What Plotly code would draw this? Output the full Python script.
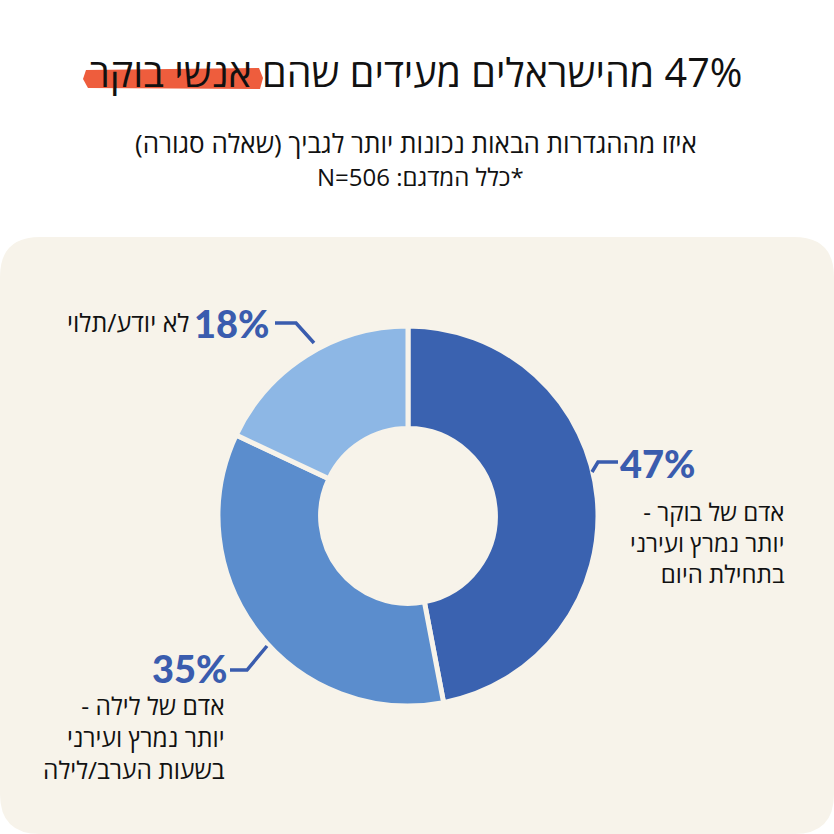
import plotly.graph_objects as go

# datos del grafico
etiquetas = ['אדם של בוקר', 'אדם של לילה', 'לא יודע/תלוי']
valores = [47, 35, 18]
colores = ['#3A62B0', '#5B8DCD', '#8DB7E5']

titulo = '47% מהישראלים מעידים שהם אנשי בוקר'
subtitulo = ['איזו מההגדרות הבאות נכונות יותר לגביך (שאלה סגורה)', '*כלל המדגם: N=506']
textos_47 = ['אדם של בוקר -', 'יותר נמרץ ועירני', 'בתחילת היום']
textos_35 = ['אדם של לילה -', 'יותר נמרץ ועירני', 'בשעות הערב/לילה']
textos_18 = ['לא יודע/תלוי']

W = H = 834
FONDO = '#F7F3EA'
AZUL = '#3A5CAE'
HEB = 'Open Sans, Noto Sans, Liberation Sans, DejaVu Sans, sans-serif'
NUM = 'Lato, Inter, Roboto, sans-serif'


def px(x):  # pixel -> paper
    return x / W


def py(y):
    return 1 - y / H


def rtl(t):
    return '\u202b' + t + '\u202c'


def bloque(lineas):
    return '<br>'.join(rtl(t) for t in lineas)


fig = go.Figure()
fig.add_trace(go.Pie(
    labels=etiquetas,
    values=valores,
    sort=False,
    direction='clockwise',
    rotation=0,
    hole=0.46,
    marker=dict(colors=colores, line=dict(color=FONDO, width=5)),
    textinfo='none',
    hoverinfo='label+percent',
    showlegend=False,
    domain=dict(x=[px(218), px(598)], y=[py(708), py(324)])
))

formas = []
# panel beige con esquinas redondeadas
x0, x1, y0, y1, r = 0, 834, 237, 834, 40
camino = (f'M {px(x0)},{py(y0 + r)} Q {px(x0)},{py(y0)} {px(x0 + r)},{py(y0)} '
          f'L {px(x1 - r)},{py(y0)} Q {px(x1)},{py(y0)} {px(x1)},{py(y0 + r)} '
          f'L {px(x1)},{py(y1 - r)} Q {px(x1)},{py(y1)} {px(x1 - r)},{py(y1)} '
          f'L {px(x0 + r)},{py(y1)} Q {px(x0)},{py(y1)} {px(x0)},{py(y1 - r)} Z')
formas.append(dict(type='path', xref='paper', yref='paper', path=camino,
                   fillcolor=FONDO, line=dict(width=0), layer='below'))
# subrayado naranjo del titulo
subr = (f'M {px(86)},{py(70)} L {px(259)},{py(68)} L {px(263)},{py(78)} '
        f'L {px(260)},{py(89)} L {px(88)},{py(88)} L {px(83)},{py(79)} Z')
formas.append(dict(type='path', xref='paper', yref='paper', path=subr,
                   fillcolor='#EE5D3D', line=dict(width=0), layer='below'))


def guia(puntos):
    p = 'M ' + ' L '.join(f'{px(a)},{py(b)}' for a, b in puntos)
    return dict(type='path', xref='paper', yref='paper', path=p,
                line=dict(color=AZUL, width=3.5))


formas.append(guia([(275, 323), (296, 323), (314, 343)]))
formas.append(guia([(592, 472), (598, 462), (618, 462)]))
formas.append(guia([(230, 670), (247, 670), (267, 646)]))

anot = []
anot.append(dict(x=px(416), y=py(72), text=rtl(titulo), xanchor='center', yanchor='middle',
                 font=dict(family=HEB, size=39.5, color='#111111')))
anot.append(dict(x=px(416), y=py(143), text=rtl(subtitulo[0]), xanchor='center', yanchor='middle',
                 font=dict(family=HEB, size=26, color='#111111')))
anot.append(dict(x=px(420), y=py(176), text=rtl(subtitulo[1]), xanchor='center', yanchor='middle',
                 font=dict(family=HEB, size=24, color='#111111')))

# porcentajes
anot.append(dict(x=px(272), y=py(323), text=f'{valores[2]}%', xanchor='right', yanchor='middle',
                 font=dict(family=NUM, size=38, color=AZUL, weight=900)))
anot.append(dict(x=px(618), y=py(463), text=f'{valores[0]}%', xanchor='left', yanchor='middle',
                 font=dict(family=NUM, size=38, color=AZUL, weight=900)))
anot.append(dict(x=px(230), y=py(668), text=f'{valores[1]}%', xanchor='right', yanchor='middle',
                 font=dict(family=NUM, size=38, color=AZUL, weight=900)))

# textos de cada categoria
anot.append(dict(x=px(191), y=py(322), text=bloque(textos_18), xanchor='right', yanchor='middle',
                 align='right', font=dict(family=HEB, size=25, color='#111111')))
anot.append(dict(x=px(787), y=py(542), text=bloque(textos_47), xanchor='right', yanchor='middle',
                 align='right', font=dict(family=HEB, size=24, color='#111111')))
anot.append(dict(x=px(227), y=py(737), text=bloque(textos_35), xanchor='right', yanchor='middle',
                 align='right', font=dict(family=HEB, size=24.5, color='#111111')))

for a in anot:
    a.update(xref='paper', yref='paper', showarrow=False)

fig.update_layout(
    width=W, height=H,
    margin=dict(l=0, r=0, t=0, b=0),
    paper_bgcolor='white',
    plot_bgcolor='white',
    shapes=formas,
    annotations=anot
)

fig.write_html('out.html', config={'displayModeBar': False},
               post_script="document.body.style.margin='0';")
